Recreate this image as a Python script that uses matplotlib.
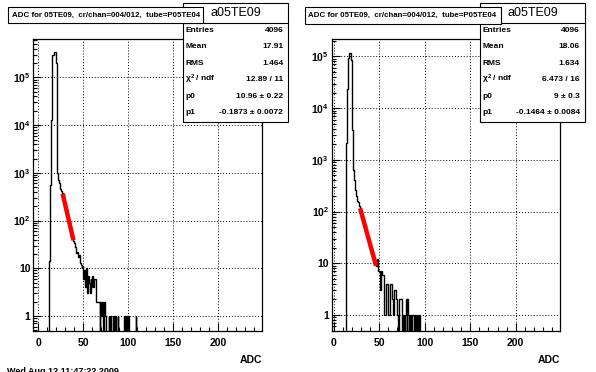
import numpy as np
import matplotlib
matplotlib.use("Agg")
import matplotlib.pyplot as plt
from matplotlib.patches import Rectangle
from matplotlib.lines import Line2D
from matplotlib.ticker import MultipleLocator, LogLocator, FuncFormatter, NullFormatter

plt.rcParams['font.family'] = ['Liberation Sans', 'DejaVu Sans']
plt.rcParams['mathtext.fontset'] = 'custom'
plt.rcParams['mathtext.rm'] = 'Liberation Sans:bold'
plt.rcParams['mathtext.it'] = 'Liberation Sans:bold'
plt.rcParams['mathtext.bf'] = 'Liberation Sans:bold'

# ADC counts per bin (bin i covers [i, i+1))
left_counts = [0] * 12 + [
    14, 560, 13000, 290000, 300000, 340000, 340000, 340000, 200000, 1000,   # 12-21
    700, 600, 450, 420, 380, 360, 300, 250, 200, 165,                        # 22-31
    140, 110, 95, 75, 62, 52, 44, 38, 34, 28,                                # 32-41
    21, 22, 17, 19, 13, 12, 10, 11, 6, 9,                                    # 42-51
    4, 10, 3, 7, 5, 3, 6, 4, 7, 4,                                           # 52-61
    6, 6, 2, 2, 2, 2, 0, 2, 1, 2,                                            # 62-71
    0, 2, 1, 0, 0, 0, 1, 0, 1, 0,                                            # 72-81
    0, 1, 0, 1, 0, 0, 1, 0, 0, 0,                                            # 82-91
    0, 0, 0, 1, 0, 1, 0, 0, 1, 0,                                            # 92-101
    0, 0, 0, 0, 0, 0, 1, 0, 0, 0,                                            # 102-111
]
right_counts = [0] * 13 + [
    71, 2100, 24000, 93000, 115000, 115000, 87000, 3800, 640,                # 13-21
    400, 260, 230, 200, 160, 150, 130, 115, 100, 85,                         # 22-31
    75, 64, 55, 48, 41, 36, 31, 26, 23, 20,                                  # 32-41
    17, 15, 13, 11, 10, 9, 12, 7, 7, 3,                                      # 42-51
    7, 6, 6, 1, 1, 4, 4, 4, 1, 1,                                            # 52-61
    4, 4, 2, 1, 3, 3, 2, 2, 1, 0,                                            # 62-71
    2, 2, 2, 0, 1, 0, 1, 2, 0, 2,                                            # 72-81
    1, 0, 1, 0, 1, 1, 0, 1, 0, 1,                                            # 82-91
    1, 0, 1, 0, 0, 0, 0, 0, 0, 0,                                            # 92-101
]

# fit results (expo: exp(p0 + p1*x)) and fit ranges
left_fit = (10.96, -0.1873, 27, 39)
right_fit = (9.0, -0.1464, 29, 46.5)

title = "ADC for 05TE09,  cr/chan=004/012,  tube=P05TE04"
hist_name = "a05TE09"
stat_labels = ["Entries", "Mean", "RMS", r"$\chi^2$ / ndf", "p0", "p1"]
left_stats = ["4096", "17.91", "1.464", "12.89 / 11", "10.96 \u00b1 0.22", "-0.1873 \u00b1 0.0072"]
right_stats = ["4096", "18.06", "1.634", "6.473 / 16", "9 \u00b1 0.3", "-0.1464 \u00b1 0.0084"]

W, H = 596, 372
fig = plt.figure(figsize=(W / 100, H / 100), dpi=100)


def fx(x):
    return x / W


def fy(y):
    return 1 - y / H


def log_label(v, pos):
    if v <= 0:
        return ""
    n = int(round(np.log10(v)))
    if n == 0:
        return "1"
    if n == 1:
        return "10"
    return r"$10^{%d}$" % n


def draw_pad(x0, x1, xlim, ylim, counts, fit, stats, tbox, sbox):
    ax = fig.add_axes([fx(x0), fy(331), (x1 - x0) / W, (331 - 39.3) / H])
    edges = np.arange(len(counts) + 1)
    ax.set_yscale("log", nonpositive="clip")
    ax.stairs(counts, edges, color="black", linewidth=1.0, baseline=None)
    p0, p1, a, b = fit
    xf = np.linspace(a, b, 60)
    ax.plot(xf, np.exp(p0 + p1 * xf), color="red", linewidth=3.2, solid_capstyle="butt")
    ax.set_xlim(*xlim)
    ax.set_ylim(*ylim)
    ax.xaxis.set_major_locator(MultipleLocator(50))
    ax.xaxis.set_minor_locator(MultipleLocator(10))
    ax.yaxis.set_major_locator(LogLocator(base=10, numticks=12))
    ax.yaxis.set_minor_locator(LogLocator(base=10, subs=np.arange(2, 10), numticks=12))
    ax.yaxis.set_major_formatter(FuncFormatter(log_label))
    ax.yaxis.set_minor_formatter(NullFormatter())
    ax.tick_params(which="both", direction="in", top=False, right=False, width=0.8)
    ax.tick_params(which="major", length=6)
    ax.tick_params(which="minor", length=3)
    ax.tick_params(axis="x", labelsize=7.5, pad=5)
    ax.tick_params(axis="y", labelsize=7.5, pad=2)
    for lab in ax.get_xticklabels() + ax.get_yticklabels():
        lab.set_fontweight("bold")
    ax.grid(True, which="major", color="black", linestyle=(0, (1, 2)), linewidth=0.7)
    for s in ax.spines.values():
        s.set_linewidth(0.9)
    ax.set_xlabel("ADC", fontsize=7.5, fontweight="bold", loc="right", labelpad=5)

    # stats box
    sx0, sx1 = sbox
    sy0, sy1, sline = 3.3, 121.7, 23.3
    fig.patches.append(Rectangle((fx(sx0), fy(sy1)), (sx1 - sx0) / W, (sy1 - sy0) / H,
                                 transform=fig.transFigure, facecolor="white",
                                 edgecolor="black", linewidth=0.8))
    fig.lines.append(Line2D([fx(sx0), fx(sx1)], [fy(sline), fy(sline)],
                            transform=fig.transFigure, color="black", linewidth=0.8))
    fig.text(fx((sx0 + sx1) / 2), fy(13.5), hist_name, fontsize=9,
             ha="center", va="center")
    step = (sy1 - sline) / len(stat_labels)
    for i, (lab, val) in enumerate(zip(stat_labels, stats)):
        yy = sline + step * (i + 0.5) - 1.0
        fig.text(fx(sx0 + 2.5), fy(yy), lab, fontsize=6.0, fontweight="bold",
                 ha="left", va="center")
        fig.text(fx(sx1 - 5), fy(yy), val, fontsize=6.0, fontweight="bold",
                 ha="right", va="center")

    # title box
    tx0, tx1, ty0, ty1 = tbox
    fig.patches.append(Rectangle((fx(tx0), fy(ty1)), (tx1 - tx0) / W, (ty1 - ty0) / H,
                                 transform=fig.transFigure, facecolor="white",
                                 edgecolor="black", linewidth=0.8, zorder=3))
    fig.text(fx(tx0 + 3.5), fy((ty0 + ty1) / 2), title, fontsize=5.7,
             fontweight="bold", ha="left", va="center", zorder=4)
    return ax


draw_pad(33.3, 262.3, (-5.6, 248.9), (0.485, 6.3e5), left_counts, left_fit,
         left_stats, (8.3, 202.7, 7.3, 23.3), (182.7, 288.3))
draw_pad(331.7, 560.3, (-2.2, 249.0), (0.49, 2.15e5), right_counts, right_fit,
         right_stats, (305.0, 501.3, 6.7, 24.0), (480.0, 585.0))

# date stamp, mostly cut off at the bottom of the canvas as in the original
fig.text(fx(7), fy(367.5), "Wed Aug 12 11:47:22 2009", fontsize=6.5,
         fontweight="bold", ha="left", va="top")

fig.savefig("out.png", dpi=100)
